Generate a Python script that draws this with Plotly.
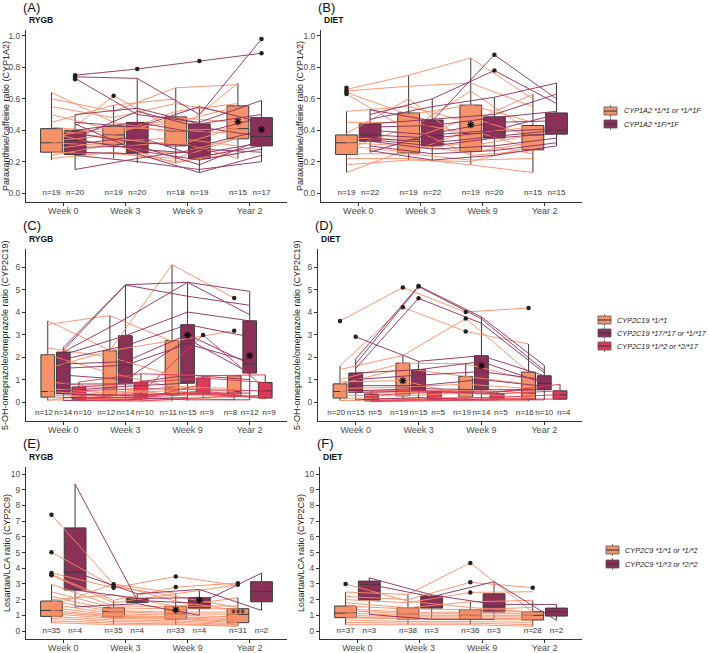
import plotly.graph_objects as go

W, H = 709, 653
WEEKS = ["Week 0", "Week 3", "Week 9", "Year 2"]
FONT = "Liberation Sans, Arial, sans-serif"

ORANGE_FILL, MAROON_FILL, RED_FILL = "#F4936B", "#8B3158", "#DD3A5B"
ORANGE_LINE, MAROON_LINE, RED_LINE = "#FA8C64", "#8D2C5C", "#E8364F"

# ---------------- Panel A (RYGB, CYP1A2) ----------------
# stats per week: [lower whisker, q1, median, q3, upper whisker]
A_ORANGE_STATS = [[0.21, 0.26, 0.32, 0.41, 0.64], [0.22, 0.31, 0.37, 0.425, 0.56],
                  [0.19, 0.30, 0.395, 0.485, 0.67], [0.22, 0.345, 0.41, 0.555, 0.70]]
A_MAROON_STATS = [[0.15, 0.245, 0.335, 0.40, 0.50], [0.19, 0.255, 0.32, 0.45, 0.73],
                  [0.13, 0.22, 0.30, 0.44, 0.555], [0.20, 0.30, 0.36, 0.48, 0.59]]
A_ORANGE_N = [19, 19, 18, 15]
A_MAROON_N = [20, 20, 19, 17]
A_ORANGE_OUT = [[], [0.62], [], []]
A_MAROON_OUT = [[0.75, 0.735, 0.725], [0.79], [0.84], [0.98, 0.89]]
A_ORANGE_MEAN = [None, None, None, 0.455]
A_MAROON_MEAN = [None, None, None, 0.405]
A_ORANGE_LINES = [
    [0.64, 0.45, 0.38, 0.70], [0.60, 0.52, 0.67, 0.69], [0.55, 0.48, 0.57, 0.50],
    [0.50, 0.40, 0.45, 0.55], [0.45, 0.56, 0.60, None], [0.42, 0.38, 0.48, 0.45],
    [0.40, 0.35, 0.30, 0.42], [0.36, 0.42, 0.40, 0.38], [0.33, 0.37, 0.52, 0.57],
    [0.32, 0.30, 0.25, 0.35], [0.30, 0.62, 0.40, 0.41], [0.28, 0.33, 0.35, 0.30],
    [0.26, 0.25, 0.22, 0.35], [0.24, 0.31, 0.19, 0.28], [0.22, 0.26, 0.20, 0.25],
    [0.38, 0.29, 0.33, 0.22]]
A_MAROON_LINES = [
    [0.75, 0.79, 0.84, 0.89], [0.74, 0.73, 0.50, 0.98], [0.73, 0.50, 0.45, 0.59],
    [0.50, 0.54, 0.44, 0.50], [0.45, 0.42, 0.55, 0.45], [0.40, 0.45, 0.38, 0.48],
    [0.38, 0.32, 0.30, 0.40], [0.35, 0.52, 0.42, 0.36], [0.34, 0.28, 0.25, 0.32],
    [0.31, 0.36, 0.23, 0.30], [0.29, 0.30, 0.18, 0.34], [0.26, 0.25, 0.13, 0.24],
    [0.24, 0.20, 0.15, 0.20], [0.15, 0.22, 0.28, 0.26], [0.44, 0.27, 0.21, 0.28]]

# ---------------- Panel B (DIET, CYP1A2) ----------------
B_ORANGE_STATS = [[0.13, 0.245, 0.32, 0.37, 0.52], [0.21, 0.255, 0.34, 0.51, 0.75],
                  [0.18, 0.265, 0.38, 0.56, 0.86], [0.13, 0.275, 0.37, 0.43, 0.63]]
B_MAROON_STATS = [[0.26, 0.33, 0.37, 0.44, 0.53], [0.21, 0.30, 0.365, 0.465, 0.60],
                  [0.24, 0.35, 0.39, 0.485, 0.61], [0.30, 0.375, 0.40, 0.51, 0.70]]
B_ORANGE_N = [19, 19, 19, 15]
B_MAROON_N = [22, 22, 20, 15]
B_ORANGE_OUT = [[0.67, 0.655, 0.64, 0.63], [], [], []]
B_MAROON_OUT = [[], [], [0.88, 0.78], []]
B_ORANGE_MEAN = [None, None, 0.435, None]
B_MAROON_MEAN = [None, None, None, None]
B_ORANGE_LINES = [
    [0.66, 0.75, 0.86, 0.60], [0.65, 0.68, 0.70, 0.55], [0.64, 0.50, 0.56, 0.45],
    [0.63, 0.40, 0.65, 0.38], [0.52, 0.55, 0.45, 0.63], [0.45, 0.45, 0.38, 0.42],
    [0.38, 0.60, 0.30, 0.37], [0.35, 0.34, 0.48, 0.36], [0.32, 0.30, 0.26, 0.32],
    [0.30, 0.26, 0.40, 0.28], [0.28, 0.42, 0.24, 0.27], [0.25, 0.25, 0.21, 0.22],
    [0.22, 0.22, 0.18, 0.13], [0.18, 0.21, 0.20, 0.30], [0.13, 0.28, 0.32, 0.25]]
B_MAROON_LINES = [
    [0.53, 0.46, 0.88, 0.60], [0.50, 0.60, 0.78, 0.57], [0.47, 0.55, 0.61, 0.70],
    [0.44, 0.47, 0.50, 0.63], [0.42, 0.43, 0.48, 0.52], [0.40, 0.37, 0.40, 0.50],
    [0.37, 0.35, 0.39, 0.41], [0.35, 0.32, 0.36, 0.40], [0.34, 0.30, 0.35, 0.38],
    [0.33, 0.28, 0.30, 0.35], [0.30, 0.25, 0.27, 0.32], [0.27, 0.21, 0.24, 0.30],
    [0.26, 0.38, 0.45, 0.46]]

# ---------------- Panel C (RYGB, CYP2C19) ----------------
C_ORANGE_STATS = [[0.07, 0.22, 0.47, 2.10, 3.61], [0.05, 0.30, 0.62, 2.28, 3.84],
                  [0.05, 0.33, 0.67, 2.73, 6.10], [0.10, 0.28, 0.46, 1.17, 1.17]]
C_MAROON_STATS = [[0.07, 0.37, 1.69, 2.22, 2.43], [0.10, 0.81, 1.64, 2.95, 5.21],
                  [0.07, 0.84, 2.58, 3.44, 5.32], [0.10, 1.29, 1.69, 3.61, 4.92]]
C_RED_STATS = [[0.05, 0.13, 0.18, 0.67, 0.89], [0.05, 0.22, 0.30, 0.87, 1.26],
               [0.20, 0.36, 0.55, 1.07, 1.17], [0.15, 0.18, 0.50, 0.87, 1.21]]
C_ORANGE_N = [12, 12, 11, 8]
C_MAROON_N = [14, 14, 15, 12]
C_RED_N = [10, 10, 9, 9]
C_ORANGE_OUT = [[], [], [], [4.62, 3.17]]
C_MAROON_OUT = [[], [], [], []]
C_RED_OUT = [[], [], [2.98], []]
C_ORANGE_MEAN = [None, None, None, None]
C_MAROON_MEAN = [None, None, 2.97, 2.06]
C_RED_MEAN = [None, None, None, None]
C_ORANGE_LINES = [
    [3.61, 2.30, 6.10, 4.62], [3.45, 3.84, 2.70, 3.17], [2.40, 2.00, 1.20, 1.17],
    [2.10, 1.30, 0.67, 0.46], [1.50, 2.28, 2.73, None], [0.90, 0.62, 0.33, 0.28],
    [0.60, 0.40, 0.50, 0.30], [0.47, 0.30, 0.70, 0.60], [0.30, 0.25, 0.40, 0.20],
    [0.22, 0.15, 0.20, 0.10], [0.10, 0.05, 0.05, None], [0.07, 0.50, 0.35, None]]
C_MAROON_LINES = [
    [2.43, 5.21, 5.32, 4.92], [2.30, 5.20, 4.70, 4.30], [2.22, 3.70, 5.32, 3.88],
    [2.10, 2.95, 4.00, 3.61], [1.90, 2.50, 3.44, 2.90], [1.69, 1.80, 3.00, 1.69],
    [1.50, 1.64, 2.58, 1.80], [1.20, 1.00, 2.80, 1.29], [0.80, 0.81, 1.20, 1.00],
    [0.50, 0.70, 0.84, None], [0.37, 0.30, 0.40, 0.40], [0.20, 0.20, 0.10, 0.10],
    [0.07, 0.10, 0.20, None]]
C_RED_LINES = [
    [0.89, 1.26, 1.17, 1.21], [0.67, 0.87, 1.07, 0.87], [0.50, 0.60, 0.55, 0.50],
    [0.30, 0.30, 0.40, 0.20], [0.18, 0.22, 0.36, 0.18], [0.15, 0.40, 2.98, 0.60],
    [0.13, 0.25, 0.50, 0.15], [0.10, 0.05, 0.20, 0.30], [0.05, 0.15, 0.80, None]]

# ---------------- Panel D (DIET, CYP2C19) ----------------
D_ORANGE_STATS = [[0.07, 0.18, 0.47, 0.81, 1.61], [0.07, 0.28, 0.67, 1.73, 2.07],
                  [0.07, 0.22, 0.55, 1.14, 1.70], [0.05, 0.13, 0.40, 1.33, 2.58]]
D_MAROON_STATS = [[0.10, 0.43, 0.73, 1.29, 1.91], [0.10, 0.50, 0.73, 1.44, 1.81],
                  [0.10, 0.55, 1.35, 2.06, 3.78], [0.10, 0.55, 0.83, 1.17, 1.63]]
D_RED_STATS = [[0.02, 0.05, 0.07, 0.36, 0.50], [0.05, 0.10, 0.13, 0.44, 0.50],
               [0.10, 0.15, 0.21, 0.37, 0.45], [0.10, 0.13, 0.33, 0.50, 0.79]]
D_ORANGE_N = [20, 19, 19, 16]
D_MAROON_N = [15, 15, 14, 10]
D_RED_N = [5, 5, 5, 4]
D_ORANGE_OUT = [[3.60], [5.09, 4.21], [4.00, 3.71, 3.14], [4.18]]
D_MAROON_OUT = [[2.90], [5.16, 5.13, 4.61], [], []]
D_RED_OUT = [[], [], [], []]
D_ORANGE_MEAN = [None, 0.95, None, None]
D_MAROON_MEAN = [None, None, 1.62, None]
D_RED_MEAN = [None, None, None, None]
D_ORANGE_LINES = [
    [3.60, 5.09, 4.00, 4.18], [1.61, 4.21, 3.14, 2.58], [1.45, 2.07, 3.71, 1.33],
    [1.00, 1.73, 1.70, 1.00], [0.81, 1.50, 1.14, 0.80], [0.60, 0.67, 0.80, 0.60],
    [0.47, 0.40, 0.55, 0.40], [0.30, 0.28, 0.40, 0.20], [0.18, 0.15, 0.22, 0.13],
    [0.07, 0.10, 0.07, 0.05], [0.90, 0.95, 0.30, None]]
D_MAROON_LINES = [
    [1.91, 5.16, 3.78, 1.63], [1.70, 5.13, 3.70, 1.40], [1.50, 4.61, 3.50, 1.30],
    [2.90, 1.81, 2.06, 1.17], [1.29, 1.44, 1.80, 0.83], [1.00, 1.20, 1.35, 1.00],
    [0.73, 0.73, 1.00, 0.70], [0.50, 0.60, 0.55, 0.55], [0.43, 0.50, 0.40, 0.60],
    [0.10, 0.20, 0.10, 0.10]]
D_RED_LINES = [
    [0.50, 0.50, 0.45, 0.79], [0.30, 0.44, 0.37, 0.50], [0.07, 0.13, 0.21, 0.33],
    [0.05, 0.10, 0.15, 0.13], [0.02, 0.05, 0.10, None]]

# ---------------- Panel E (RYGB, CYP2C9) ----------------
E_ORANGE_STATS = [[0.53, 0.93, 1.31, 1.91, 2.97], [0.40, 0.89, 1.23, 1.48, 1.95],
                  [0.40, 0.76, 1.10, 1.57, 2.37], [0.30, 0.53, 1.06, 1.42, 2.12]]
E_MAROON_STATS = [[1.53, 2.61, 3.75, 6.57, 9.36], [1.74, 1.82, 1.95, 2.08, 2.37],
                  [1.00, 1.44, 1.76, 2.12, 2.65], [1.31, 1.86, 2.50, 3.14, 3.69]]
E_ORANGE_N = [35, 35, 33, 31]
E_MAROON_N = [4, 4, 4, 2]
E_ORANGE_OUT = [[7.40, 5.02, 3.70, 3.60, 3.55], [2.98, 2.85, 2.75], [3.47, 2.80], [3.05, 2.95]]
E_MAROON_OUT = [[], [], [], []]
E_ORANGE_MEAN = [None, None, 1.35, None]
E_MAROON_MEAN = [None, None, 1.97, None]
E_SIG_TEXT = "***"
E_SIG_VALUE = 1.25
E_ORANGE_LINES = [
    [7.40, 2.98, 1.90, 1.30], [5.02, 2.85, 2.20, 1.50], [3.70, 2.75, 3.47, 2.90],
    [3.60, 1.95, 2.80, 3.05], [3.55, 1.80, 2.37, 2.95], [2.97, 1.60, 1.57, 2.12],
    [2.50, 1.48, 1.40, 1.42], [2.20, 1.30, 1.20, 1.20], [1.91, 1.23, 1.10, 1.06],
    [1.70, 1.10, 1.00, 0.90], [1.50, 1.00, 0.90, 0.80], [1.31, 0.95, 0.85, 0.70],
    [1.20, 0.89, 0.80, 0.60], [1.10, 0.80, 0.76, 0.53], [0.93, 0.70, 0.65, 0.45],
    [0.80, 0.60, 0.55, 0.40], [0.65, 0.50, 0.45, 0.35], [0.53, 0.40, 0.40, 0.30],
    [2.00, 2.30, 1.57, 1.60], [1.60, 3.00, 2.40, None]]
E_MAROON_LINES = [
    [9.36, 1.95, 1.76, 3.69], [3.75, 2.37, 2.65, 1.31], [2.61, 2.08, 2.12, None],
    [1.53, 1.74, 1.00, None]]

# ---------------- Panel F (DIET, CYP2C9) ----------------
F_ORANGE_STATS = [[0.40, 0.85, 1.14, 1.59, 2.48], [0.40, 0.76, 1.10, 1.48, 2.33],
                  [0.40, 0.74, 1.00, 1.36, 1.86], [0.30, 0.70, 1.00, 1.23, 1.95]]
F_MAROON_STATS = [[1.06, 1.97, 2.97, 3.18, 3.39], [0.74, 1.46, 2.18, 2.22, 2.30],
                  [0.74, 1.21, 1.59, 2.37, 3.14], [0.68, 0.95, 1.23, 1.46, 1.69]]
F_ORANGE_N = [37, 38, 36, 28]
F_MAROON_N = [3, 3, 3, 2]
F_ORANGE_OUT = [[3.00], [], [4.34, 3.10, 2.46], [2.76]]
F_MAROON_OUT = [[], [], [], []]
F_ORANGE_MEAN = [None, None, None, None]
F_MAROON_MEAN = [None, None, None, None]
F_ORANGE_LINES = [
    [3.00, 1.90, 1.50, 1.20], [2.48, 2.33, 4.34, 1.20], [2.20, 2.00, 3.10, 2.76],
    [2.00, 1.80, 2.46, 2.50], [1.80, 1.48, 1.86, 1.95], [1.59, 1.40, 1.36, 1.50],
    [1.40, 1.20, 1.20, 1.23], [1.30, 1.10, 1.10, 1.10], [1.14, 1.00, 1.00, 1.00],
    [1.00, 0.90, 0.90, 0.90], [0.90, 0.80, 0.80, 0.80], [0.85, 0.76, 0.74, 0.70],
    [0.70, 0.60, 0.60, 0.55], [0.55, 0.50, 0.50, 0.40], [0.40, 0.40, 0.40, 0.30]]
F_MAROON_LINES = [
    [3.39, 2.30, 1.70, 1.69], [2.97, 2.18, 3.14, 0.68], [1.06, 0.74, 0.74, None]]

# ---------------- Legends / titles ----------------
CYP1A2_GROUPS = ["CYP1A2 *1/*1 or *1/*1F", "CYP1A2 *1F/*1F"]
CYP2C19_GROUPS = ["CYP2C19 *1/*1", "CYP2C19 *17/*17 or *1/*17", "CYP2C19 *1/*2 or *2/*17"]
CYP2C9_GROUPS = ["CYP2C9 *1/*1 or *1/*2", "CYP2C9 *1/*3 or *2/*2"]
YTITLE_1A2 = "Paraxanthine/caffeine ratio (CYP1A2)"
YTITLE_2C19 = "5-OH-omeprazole/omeprazole ratio (CYP2C19)"
YTITLE_2C9 = "Losartan/LCA ratio (CYP2C9)"

STYLE = {"orange": (ORANGE_FILL, ORANGE_LINE), "maroon": (MAROON_FILL, MAROON_LINE),
         "red": (RED_FILL, RED_LINE)}

panels = [
    dict(label="(A)", arm="RYGB", xd=(26, 287), yd=(30, 202), yr=(-0.057, 1.038),
         yt=[0, 0.2, 0.4, 0.6, 0.8, 1.0], yfmt="{:.1f}", ytitle=YTITLE_1A2, ny=0, tx=6,
         groups=[("orange", A_ORANGE_STATS, A_ORANGE_N, A_ORANGE_OUT, A_ORANGE_MEAN, A_ORANGE_LINES),
                 ("maroon", A_MAROON_STATS, A_MAROON_N, A_MAROON_OUT, A_MAROON_MEAN, A_MAROON_LINES)]),
    dict(label="(B)", arm="DIET", xd=(321, 582), yd=(30, 202), yr=(-0.057, 1.038),
         yt=[0, 0.2, 0.4, 0.6, 0.8, 1.0], yfmt="{:.1f}", ytitle=YTITLE_1A2, ny=0, tx=300,
         groups=[("orange", B_ORANGE_STATS, B_ORANGE_N, B_ORANGE_OUT, B_ORANGE_MEAN, B_ORANGE_LINES),
                 ("maroon", B_MAROON_STATS, B_MAROON_N, B_MAROON_OUT, B_MAROON_MEAN, B_MAROON_LINES)]),
    dict(label="(C)", arm="RYGB", xd=(26, 287), yd=(249, 421), yr=(-0.84, 6.8),
         yt=[0, 1, 2, 3, 4, 5, 6], yfmt="{:d}", ytitle=YTITLE_2C19, ny=-0.47, tx=5,
         groups=[("orange", C_ORANGE_STATS, C_ORANGE_N, C_ORANGE_OUT, C_ORANGE_MEAN, C_ORANGE_LINES),
                 ("maroon", C_MAROON_STATS, C_MAROON_N, C_MAROON_OUT, C_MAROON_MEAN, C_MAROON_LINES),
                 ("red", C_RED_STATS, C_RED_N, C_RED_OUT, C_RED_MEAN, C_RED_LINES)]),
    dict(label="(D)", arm="DIET", xd=(318, 582), yd=(249, 421), yr=(-0.84, 6.8),
         yt=[0, 1, 2, 3, 4, 5, 6], yfmt="{:d}", ytitle=YTITLE_2C19, ny=-0.47, tx=297,
         groups=[("orange", D_ORANGE_STATS, D_ORANGE_N, D_ORANGE_OUT, D_ORANGE_MEAN, D_ORANGE_LINES),
                 ("maroon", D_MAROON_STATS, D_MAROON_N, D_MAROON_OUT, D_MAROON_MEAN, D_MAROON_LINES),
                 ("red", D_RED_STATS, D_RED_N, D_RED_OUT, D_RED_MEAN, D_RED_LINES)]),
    dict(label="(E)", arm="RYGB", xd=(26, 287), yd=(467, 639), yr=(-0.51, 10.45),
         yt=list(range(0, 11)), yfmt="{:d}", ytitle=YTITLE_2C9, ny=0, tx=7,
         groups=[("orange", E_ORANGE_STATS, E_ORANGE_N, E_ORANGE_OUT, E_ORANGE_MEAN, E_ORANGE_LINES),
                 ("maroon", E_MAROON_STATS, E_MAROON_N, E_MAROON_OUT, E_MAROON_MEAN, E_MAROON_LINES)]),
    dict(label="(F)", arm="DIET", xd=(320, 582), yd=(467, 639), yr=(-0.51, 10.45),
         yt=list(range(0, 11)), yfmt="{:d}", ytitle=YTITLE_2C9, ny=0, tx=301,
         groups=[("orange", F_ORANGE_STATS, F_ORANGE_N, F_ORANGE_OUT, F_ORANGE_MEAN, F_ORANGE_LINES),
                 ("maroon", F_MAROON_STATS, F_MAROON_N, F_MAROON_OUT, F_MAROON_MEAN, F_MAROON_LINES)]),
]

# legend rows: labels, colours, item centres (px from top), icon left (px), text left (px)
LEGENDS = [
    (CYP1A2_GROUPS, ["orange", "maroon"], [111, 124], 604, 622),
    (CYP2C19_GROUPS, ["orange", "maroon", "red"], [320, 333, 346], 598, 615),
    (CYP2C9_GROUPS, ["orange", "maroon"], [550, 564], 606, 623),
]


def px_x(p):
    return p / W


def px_y(p):
    return 1 - p / H


fig = go.Figure()
layout = dict(template="none", width=W, height=H, margin=dict(l=0, r=0, t=0, b=0, pad=0),
              paper_bgcolor="white", plot_bgcolor="white", showlegend=False,
              boxmode="overlay", font=dict(family=FONT, color="#1a1a1a"))
annotations = []
shapes = []

for i, p in enumerate(panels):
    sfx = "" if i == 0 else str(i + 1)
    xref, yref = "x" + sfx, "y" + sfx
    layout["xaxis" + sfx] = dict(
        domain=[px_x(p["xd"][0]), px_x(p["xd"][1])], anchor=yref, range=[-0.6, 3.6],
        tickmode="array", tickvals=[0, 1, 2, 3], ticktext=WEEKS, showline=True,
        linecolor="#333333", linewidth=1, ticks="outside", ticklen=3, tickwidth=1,
        tickcolor="#333333", showgrid=False, zeroline=False, automargin=False,
        ticklabelstandoff=-3,
        tickfont=dict(size=9, color="#4D4D4D", family=FONT))
    layout["yaxis" + sfx] = dict(
        domain=[px_y(p["yd"][1]), px_y(p["yd"][0])], anchor=xref, range=list(p["yr"]),
        tickmode="array", tickvals=p["yt"], ticktext=[p["yfmt"].format(v) for v in p["yt"]],
        showline=True, linecolor="#333333", linewidth=1, ticks="outside", ticklen=3,
        tickwidth=1, tickcolor="#333333", showgrid=False, zeroline=False, automargin=False,
        tickfont=dict(size=8.5, color="#4D4D4D", family=FONT))

    ng = len(p["groups"])
    offs = [-0.19, 0.19] if ng == 2 else [-0.25, 0.0, 0.25]
    noffs = [-0.19, 0.19] if ng == 2 else [-0.31, 0.0, 0.31]
    bw = 0.35 if ng == 2 else 0.22

    # boxes
    for (col, stats, ns, outs, means, lines), off in zip(p["groups"], offs):
        fill, lc = STYLE[col]
        fig.add_trace(go.Box(
            x=[k + off for k in range(4)],
            lowerfence=[s[0] for s in stats], q1=[s[1] for s in stats],
            median=[s[2] for s in stats], q3=[s[3] for s in stats],
            upperfence=[s[4] for s in stats], width=bw, whiskerwidth=0,
            fillcolor=fill, line=dict(color="#3A3A3A", width=1), boxpoints=False,
            xaxis=xref, yaxis=yref, hoverinfo="skip", showlegend=False))
    # spaghetti lines
    for (col, stats, ns, outs, means, lines), off in zip(p["groups"], offs):
        fill, lc = STYLE[col]
        xs, ys = [], []
        for ind in lines:
            for k, v in enumerate(ind):
                if v is not None:
                    xs.append(k + off)
                    ys.append(v)
            xs.append(None)
            ys.append(None)
        fig.add_trace(go.Scatter(x=xs, y=ys, mode="lines", line=dict(color=lc, width=1),
                                 opacity=0.9, xaxis=xref, yaxis=yref, hoverinfo="skip",
                                 showlegend=False))
    # outliers, means, n labels
    for (col, stats, ns, outs, means, lines), off, noff in zip(p["groups"], offs, noffs):
        ox, oy = [], []
        for k, lst in enumerate(outs):
            for v in lst:
                ox.append(k + off)
                oy.append(v)
        if ox:
            fig.add_trace(go.Scatter(x=ox, y=oy, mode="markers",
                                     marker=dict(color="#222222", size=4.5),
                                     xaxis=xref, yaxis=yref, hoverinfo="skip", showlegend=False))
        mx = [k + off for k, v in enumerate(means) if v is not None]
        my = [v for v in means if v is not None]
        if mx:
            fig.add_trace(go.Scatter(x=mx, y=my, mode="markers",
                                     marker=dict(symbol="asterisk-open", size=6, color="#111111",
                                                 line=dict(color="#111111", width=1.3)),
                                     xaxis=xref, yaxis=yref, hoverinfo="skip", showlegend=False))
        fig.add_trace(go.Scatter(x=[k + noff for k in range(4)], y=[p["ny"]] * 4, mode="text",
                                 text=["n=%d" % n for n in ns],
                                 textfont=dict(size=8, color="#333333", family=FONT),
                                 xaxis=xref, yaxis=yref, hoverinfo="skip", showlegend=False))

    # panel label, arm label, y title
    annotations.append(dict(x=px_x(p["xd"][0] - 5), y=px_y(p["yd"][0] - 23), xref="paper",
                            yref="paper", text=p["label"], showarrow=False, xanchor="left",
                            yanchor="middle", font=dict(size=13, color="#111111", family=FONT)))
    annotations.append(dict(x=px_x(p["xd"][0] + 1), y=px_y(p["yd"][0] - 10), xref="paper",
                            yref="paper", text="<b>%s</b>" % p["arm"], showarrow=False,
                            xanchor="left", yanchor="middle",
                            font=dict(size=8.5, color="#111111", family=FONT)))
    annotations.append(dict(x=px_x(p["tx"]), y=px_y((p["yd"][0] + p["yd"][1]) / 2),
                            xref="paper", yref="paper", text=p["ytitle"], textangle=-90,
                            showarrow=False, xanchor="center", yanchor="middle",
                            font=dict(size=9, color="#1a1a1a", family=FONT)))

# significance marker in panel E
annotations.append(dict(x=3 - 0.19, y=E_SIG_VALUE, xref="x5", yref="y5", text=E_SIG_TEXT,
                        showarrow=False, yshift=-3, font=dict(size=12, color="#111111", family=FONT)))

# custom ggplot-style legends
for labels, cols, ys, ix0, tx0 in LEGENDS:
    for lab, col, yc in zip(labels, cols, ys):
        fill, lc = STYLE[col]
        x0, x1 = ix0, ix0 + 13
        xm = (x0 + x1) / 2
        shapes.append(dict(type="line", xref="paper", yref="paper", x0=px_x(xm), x1=px_x(xm),
                           y0=px_y(yc - 6), y1=px_y(yc + 6), line=dict(color="#555555", width=0.8)))
        shapes.append(dict(type="rect", xref="paper", yref="paper", x0=px_x(x0), x1=px_x(x1),
                           y0=px_y(yc - 4), y1=px_y(yc + 4), fillcolor=fill,
                           line=dict(color="#555555", width=0.8)))
        shapes.append(dict(type="line", xref="paper", yref="paper", x0=px_x(x0), x1=px_x(x1),
                           y0=px_y(yc), y1=px_y(yc), line=dict(color="#333333", width=1)))
        annotations.append(dict(x=px_x(tx0), y=px_y(yc), xref="paper", yref="paper",
                                text="<i>%s</i>" % lab, showarrow=False, xanchor="left",
                                yanchor="middle", font=dict(size=7.3, color="#1a1a1a", family=FONT)))

layout["annotations"] = annotations
layout["shapes"] = shapes
fig.update_layout(**layout)
# remove the browser's default 8px body margin so the figure sits at the page origin
fig.write_html("out.html", config={"displayModeBar": False},
               post_script="document.body.style.margin='0';")
